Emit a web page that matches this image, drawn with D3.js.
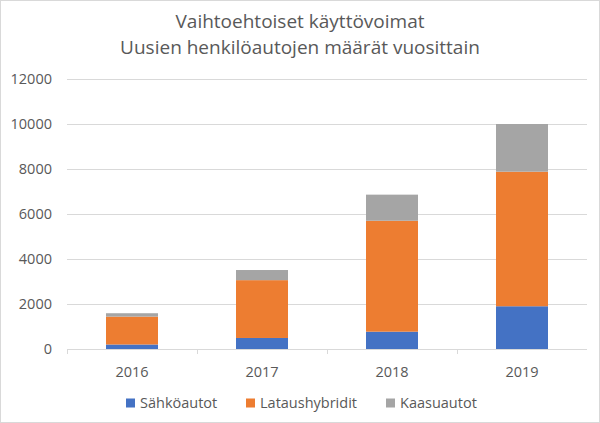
<!DOCTYPE html>
<html>
<head>
<meta charset="utf-8">
<script src="https://cdn.jsdelivr.net/npm/d3@7"></script>
<style>
  body { margin: 0; background: #fff; }
  text { font-family: "Open Sans", "Noto Sans", sans-serif; }
</style>
</head>
<body>
<svg id="chart" width="600" height="423"></svg>
<script>
// Data
const years = ['2016', '2017', '2018', '2019'];
const sahkoautot = [200, 490, 770, 1900];
const lataushybridit = [1240, 2570, 4930, 5980];
const kaasuautot = [150, 450, 1160, 2120];
const seriesNames = ['Sähköautot', 'Lataushybridit', 'Kaasuautot'];
const seriesColors = ['#4472C4', '#ED7D31', '#A5A5A5'];
const yTicks = [0, 2000, 4000, 6000, 8000, 10000, 12000];
const titleLines = ['Vaihtoehtoiset käyttövoimat', 'Uusien henkilöautojen määrät vuosittain'];

let width = 600;
let height = 423;
let margin = {left: 67, right: 13, top: 79, bottom: 74};
let labelSize = 14.5;

const svg = d3.select('#chart');

// chart border
svg.append('rect')
    .attr('x', 0.5).attr('y', 0.5)
    .attr('width', width - 1).attr('height', height - 1)
    .attr('fill', '#fff')
    .attr('stroke', '#d9d9d9');

// Build a table for the stack layout
const keys = ['s', 'l', 'k'];
const table = years.map((y, i) => ({year: y, s: sahkoautot[i], l: lataushybridit[i], k: kaasuautot[i]}));
const stacked = d3.stack().keys(keys)(table);

const x = d3.scaleBand()
    .domain(years)
    .range([margin.left, width - margin.right])
    .paddingInner(0.6)
    .paddingOuter(0.3);

const y = d3.scaleLinear()
    .domain([0, 12000])
    .range([height - margin.bottom, margin.top]);

// gridlines
svg.append('g')
    .selectAll('line')
    .data(yTicks)
    .join('line')
    .attr('x1', margin.left)
    .attr('x2', width - margin.right)
    .attr('y1', d => Math.round(y(d)) + 0.5)
    .attr('y2', d => Math.round(y(d)) + 0.5)
    .attr('stroke', '#d9d9d9')
    .attr('stroke-width', 1);

// y labels
svg.append('g')
    .selectAll('text')
    .data(yTicks)
    .join('text')
    .attr('x', 52)
    .attr('y', d => y(d))
    .attr('dy', '0.35em')
    .attr('text-anchor', 'end')
    .attr('font-size', labelSize)
    .attr('fill', '#595959')
    .text(d => d);

// bars
svg.append('g')
    .selectAll('g')
    .data(stacked)
    .join('g')
    .attr('fill', (d, i) => seriesColors[i])
    .selectAll('rect')
    .data(d => d)
    .join('rect')
    .attr('x', d => x(d.data.year))
    .attr('width', x.bandwidth())
    .attr('y', d => y(d[1]))
    .attr('height', d => y(d[0]) - y(d[1]));

// x tick marks at category boundaries
const step = x.step();
const boundaries = [margin.left].concat(years.slice(1).map(yr => x(yr) - step * x.paddingInner() / 2));
svg.append('g')
    .selectAll('line')
    .data(boundaries)
    .join('line')
    .attr('x1', d => Math.round(d) + 0.5)
    .attr('x2', d => Math.round(d) + 0.5)
    .attr('y1', y(0))
    .attr('y2', y(0) + 5)
    .attr('stroke', '#d9d9d9');

// x labels
svg.append('g')
    .selectAll('text')
    .data(years)
    .join('text')
    .attr('x', d => x(d) + x.bandwidth() / 2)
    .attr('y', 377)
    .attr('text-anchor', 'middle')
    .attr('font-size', labelSize)
    .attr('fill', '#595959')
    .text(d => d);

// title
svg.append('g')
    .selectAll('text')
    .data(titleLines)
    .join('text')
    .attr('x', width / 2)
    .attr('y', (d, i) => 28 + i * 26)
    .attr('text-anchor', 'middle')
    .attr('font-size', 19)
    .attr('fill', '#595959')
    .text(d => d);

// legend
const legendX = [126, 246, 386];
const legend = svg.append('g')
    .selectAll('g')
    .data(seriesNames)
    .join('g')
    .attr('transform', (d, i) => 'translate(' + legendX[i] + ',403)');

legend.append('rect')
    .attr('x', 0).attr('y', -4.5)
    .attr('width', 9).attr('height', 9)
    .attr('fill', (d, i) => seriesColors[i]);

legend.append('text')
    .attr('x', 14)
    .attr('y', 0)
    .attr('dy', '0.35em')
    .attr('font-size', labelSize)
    .attr('fill', '#595959')
    .text(d => d);
</script>
</body>
</html>
